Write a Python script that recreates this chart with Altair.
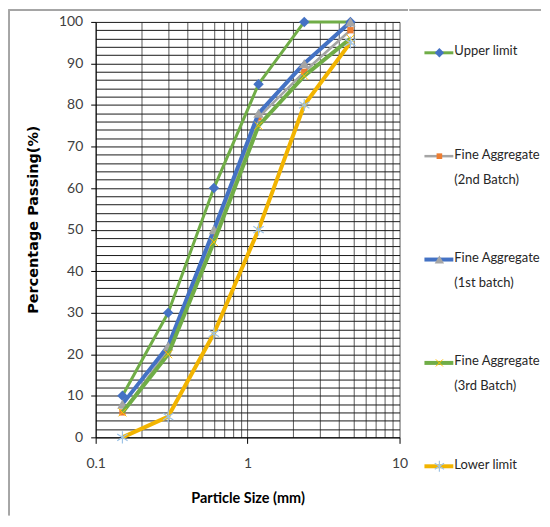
import altair as alt
import pandas as pd

# ---- data ----
sizes = [0.15, 0.3, 0.6, 1.18, 2.36, 4.75]
upper = [10, 30, 60, 85, 100, 100]
batch2 = [6, 21, 49, 77, 88, 98]
batch1 = [8, 22, 50, 78, 90, 100]
batch3 = [6, 20, 47, 75, 87, 96]
lower = [0, 5, 25, 50, 80, 95]

series_names = [
    "Upper limit",
    "Fine Aggregate (2nd Batch)",
    "Fine Aggregate (1st batch)",
    "Fine Aggregate (3rd Batch)",
    "Lower limit",
]
series_values = [upper, batch2, batch1, batch3, lower]
legend_lines = [
    ["Upper limit"],
    ["Fine Aggregate", "(2nd Batch)"],
    ["Fine Aggregate", "(1st batch)"],
    ["Fine Aggregate", "(3rd Batch)"],
    ["Lower limit"],
]

x_ticks = [0.1, 0.2, 0.3, 0.4, 0.5, 0.6, 0.7, 0.8, 0.9,
           1, 2, 3, 4, 5, 6, 7, 8, 9, 10]
x_labels = [0.1, 1, 10]
y_ticks = list(range(0, 101, 2))

# ---- styles ----
STAR = "M0,-1L0,1M-0.85,-0.55L0.85,0.55M-0.85,0.55L0.85,-0.55"
XMARK = "M-1,-1L1,1M-1,1L1,-1"
styles = {
    "Upper limit": dict(line="#70AD47", lw=3, shape="diamond", fill="#4472C4", stroke="#4472C4", size=110, sw=0),
    "Fine Aggregate (2nd Batch)": dict(line="#A5A5A5", lw=2.5, shape="square", fill="#ED7D31", stroke="#ED7D31", size=40, sw=0),
    "Fine Aggregate (1st batch)": dict(line="#4472C4", lw=4, shape="triangle-up", fill="#A5A5A5", stroke="#A5A5A5", size=110, sw=0),
    "Fine Aggregate (3rd Batch)": dict(line="#70AD47", lw=4, shape=XMARK, fill="transparent", stroke="#FFC000", size=64, sw=1),
    "Lower limit": dict(line="#F2B400", lw=4, shape=STAR, fill="transparent", stroke="#9DC3E6", size=150, sw=1.2),
}

LABEL_FONT = "Lato"
TEXT_COLOR = "#404040"

rows = []
for name, vals in zip(series_names, series_values):
    for s, v in zip(sizes, vals):
        rows.append({"series": name, "size": s, "pct": v})
df = pd.DataFrame(rows)

major_x = "indexof([" + ",".join(str(v) for v in x_labels) + "], datum.value) >= 0"

x_enc = alt.X(
    "size:Q",
    scale=alt.Scale(type="log", domain=[0.1, 10]),
    axis=alt.Axis(
        values=x_ticks,
        format="~g",
        labelExpr=major_x + " ? datum.label : ''",
        labelFlush=False,
        grid=True,
        gridColor="#5a5a5a",
        gridWidth=1,
        tickOpacity={"condition": {"test": major_x, "value": 1}, "value": 0},
        tickSize=6,
        tickColor="#000",
        domainColor="#000",
        labelPadding=13,
        labelFontSize=14,
        labelFont=LABEL_FONT,
        labelColor=TEXT_COLOR,
        title="Particle Size (mm)",
        titleFont="Lato",
        titleFontSize=14.5,
        titleFontWeight="bold",
        titleColor="#000",
        titlePadding=21,
    ),
)
major_y = "datum.value % 10 === 0"
y_enc = alt.Y(
    "pct:Q",
    scale=alt.Scale(domain=[0, 100]),
    axis=alt.Axis(
        values=y_ticks,
        labelExpr=major_y + " ? datum.label : ''",
        grid=True,
        gridColor="#1a1a1a",
        gridWidth=1,
        tickOpacity={"condition": {"test": major_y, "value": 1}, "value": 0},
        tickSize=5,
        tickColor="#000",
        domainColor="#000",
        labelPadding=8,
        labelFontSize=14,
        labelFont=LABEL_FONT,
        labelColor=TEXT_COLOR,
        title="Percentage Passing(%)",
        titleFont="DejaVu Sans",
        titleFontSize=14.5,
        titleFontWeight="bold",
        titleColor="#000",
        titlePadding=18,
        titleY=198,
    ),
)

base = alt.Chart(df)
layers = []
for name in series_names:
    st = styles[name]
    sub = base.transform_filter(alt.datum.series == name)
    layers.append(
        sub.mark_line(color=st["line"], strokeWidth=st["lw"], strokeJoin="round").encode(x=x_enc, y=y_enc)
    )
    layers.append(
        sub.mark_point(shape=st["shape"], fill=st["fill"], stroke=st["stroke"], strokeWidth=st["sw"],
                       size=st["size"], opacity=1, fillOpacity=1).encode(x=x_enc, y=y_enc)
    )

frame_v = alt.Chart(df).mark_rule(color="#A6A6A6", strokeWidth=1).encode(
    x=alt.value(-87), y=alt.value(-12), y2=alt.value(495)
)
frame_h = alt.Chart(df).mark_rule(color="#A6A6A6", strokeWidth=1).encode(
    x=alt.value(-87), x2=alt.value(313), y=alt.value(-12)
)

plot = alt.layer(frame_v, frame_h, *layers).properties(width=305, height=417)

# ---- legend panel ----
leg_df = pd.DataFrame({
    "series": series_names,
    "row": list(range(len(series_names))),
    "text": legend_lines,
})
leg_y = alt.Y("row:Q", scale=alt.Scale(domain=[-0.2988, 4.520], reverse=True), axis=None)
leg_base = alt.Chart(leg_df)
leg_layers = []
for name in series_names:
    st = styles[name]
    sub = leg_base.transform_filter(alt.datum.series == name)
    leg_layers.append(
        sub.mark_rule(color=st["line"], strokeWidth=st["lw"]).encode(
            x=alt.value(15), x2=alt.value(44), y=leg_y)
    )
    leg_layers.append(
        sub.mark_point(shape=st["shape"], fill=st["fill"], stroke=st["stroke"], strokeWidth=st["sw"],
                       size=st["size"] * 0.8, opacity=1, fillOpacity=1).encode(x=alt.value(30), y=leg_y)
    )
leg_text = leg_base.mark_text(
    align="left", baseline="top", dy=-7.5, lineHeight=25, font=LABEL_FONT, fontSize=13,
    color="#262626",
).encode(x=alt.value(45), y=leg_y, text="text:N")
leg_frame = leg_base.mark_rule(color="#A6A6A6", strokeWidth=1).encode(
    x=alt.value(0), x2=alt.value(132), y=alt.value(-12)
)
legend = alt.layer(leg_frame, *leg_layers, leg_text).properties(width=132, height=500)

chart = alt.hconcat(plot, legend, spacing=0).properties(
    padding=0, background="white"
).configure_view(stroke=None)

chart.save("out.html", embed_options={"renderer": "svg", "actions": False})
